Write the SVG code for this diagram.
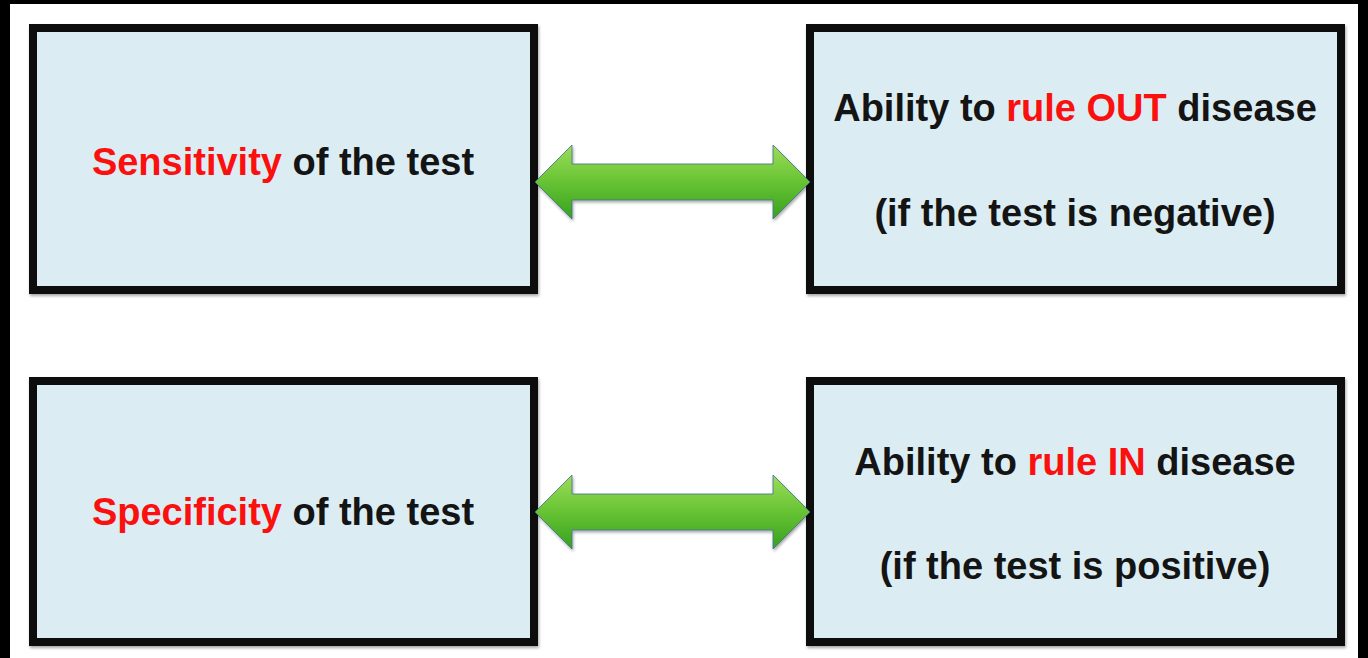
<svg xmlns="http://www.w3.org/2000/svg" width="1368" height="658" viewBox="0 0 1368 658">
  <defs>
    <linearGradient id="grn" x1="0" y1="0" x2="0" y2="1">
      <stop offset="0" stop-color="#9ddc5a"/>
      <stop offset="0.45" stop-color="#6cc636"/>
      <stop offset="1" stop-color="#36a11f"/>
    </linearGradient>
    <filter id="sh" x="-5%" y="-5%" width="110%" height="120%">
      <feDropShadow dx="1" dy="2" stdDeviation="1.5" flood-color="#000" flood-opacity="0.35"/>
    </filter>
  </defs>
  <style>
    .box { fill: #dbedf3; stroke: #0a0a0a; stroke-width: 8; }
    .t { font-family: "Liberation Sans", Arial, sans-serif; font-weight: bold; font-size: 38px; fill: #141414; text-anchor: middle; }
    .r { fill: #fb1010; }
    .arrow { fill: url(#grn); stroke: #3d6f8e; stroke-width: 1; stroke-opacity: 0.8; }
  </style>
  <rect x="0" y="0" width="1368" height="658" fill="#000"/>
  <rect x="10" y="4" width="1348" height="654" fill="#fff"/>

  <g id="node-sensitivity">
    <rect class="box" x="33" y="28" width="501" height="262" filter="url(#sh)"/>
    <text class="t" x="283" y="175"><tspan class="r">Sensitivity</tspan> of the test</text>
  </g>
  <g id="node-rule-out">
    <rect class="box" x="810" y="28" width="531" height="262" filter="url(#sh)"/>
    <text class="t" x="1075" y="121">Ability to <tspan class="r">rule OUT</tspan> disease</text>
    <text class="t" x="1075" y="226">(if the test is negative)</text>
  </g>
  <g id="node-specificity">
    <rect class="box" x="33" y="381" width="501" height="261" filter="url(#sh)"/>
    <text class="t" x="283" y="525"><tspan class="r">Specificity</tspan> of the test</text>
  </g>
  <g id="node-rule-in">
    <rect class="box" x="810" y="381" width="531" height="261" filter="url(#sh)"/>
    <text class="t" x="1075" y="475">Ability to <tspan class="r">rule IN</tspan> disease</text>
    <text class="t" x="1075" y="579">(if the test is positive)</text>
  </g>

  <g id="connectors" filter="url(#sh)">
    <path class="arrow" d="M535,182 L572,145 L572,164 L773,164 L773,145 L810,182 L773,219 L773,200 L572,200 L572,219 Z"/>
    <path class="arrow" d="M535,512 L572,475 L572,494 L773,494 L773,475 L810,512 L773,549 L773,530 L572,530 L572,549 Z"/>
  </g>
</svg>
